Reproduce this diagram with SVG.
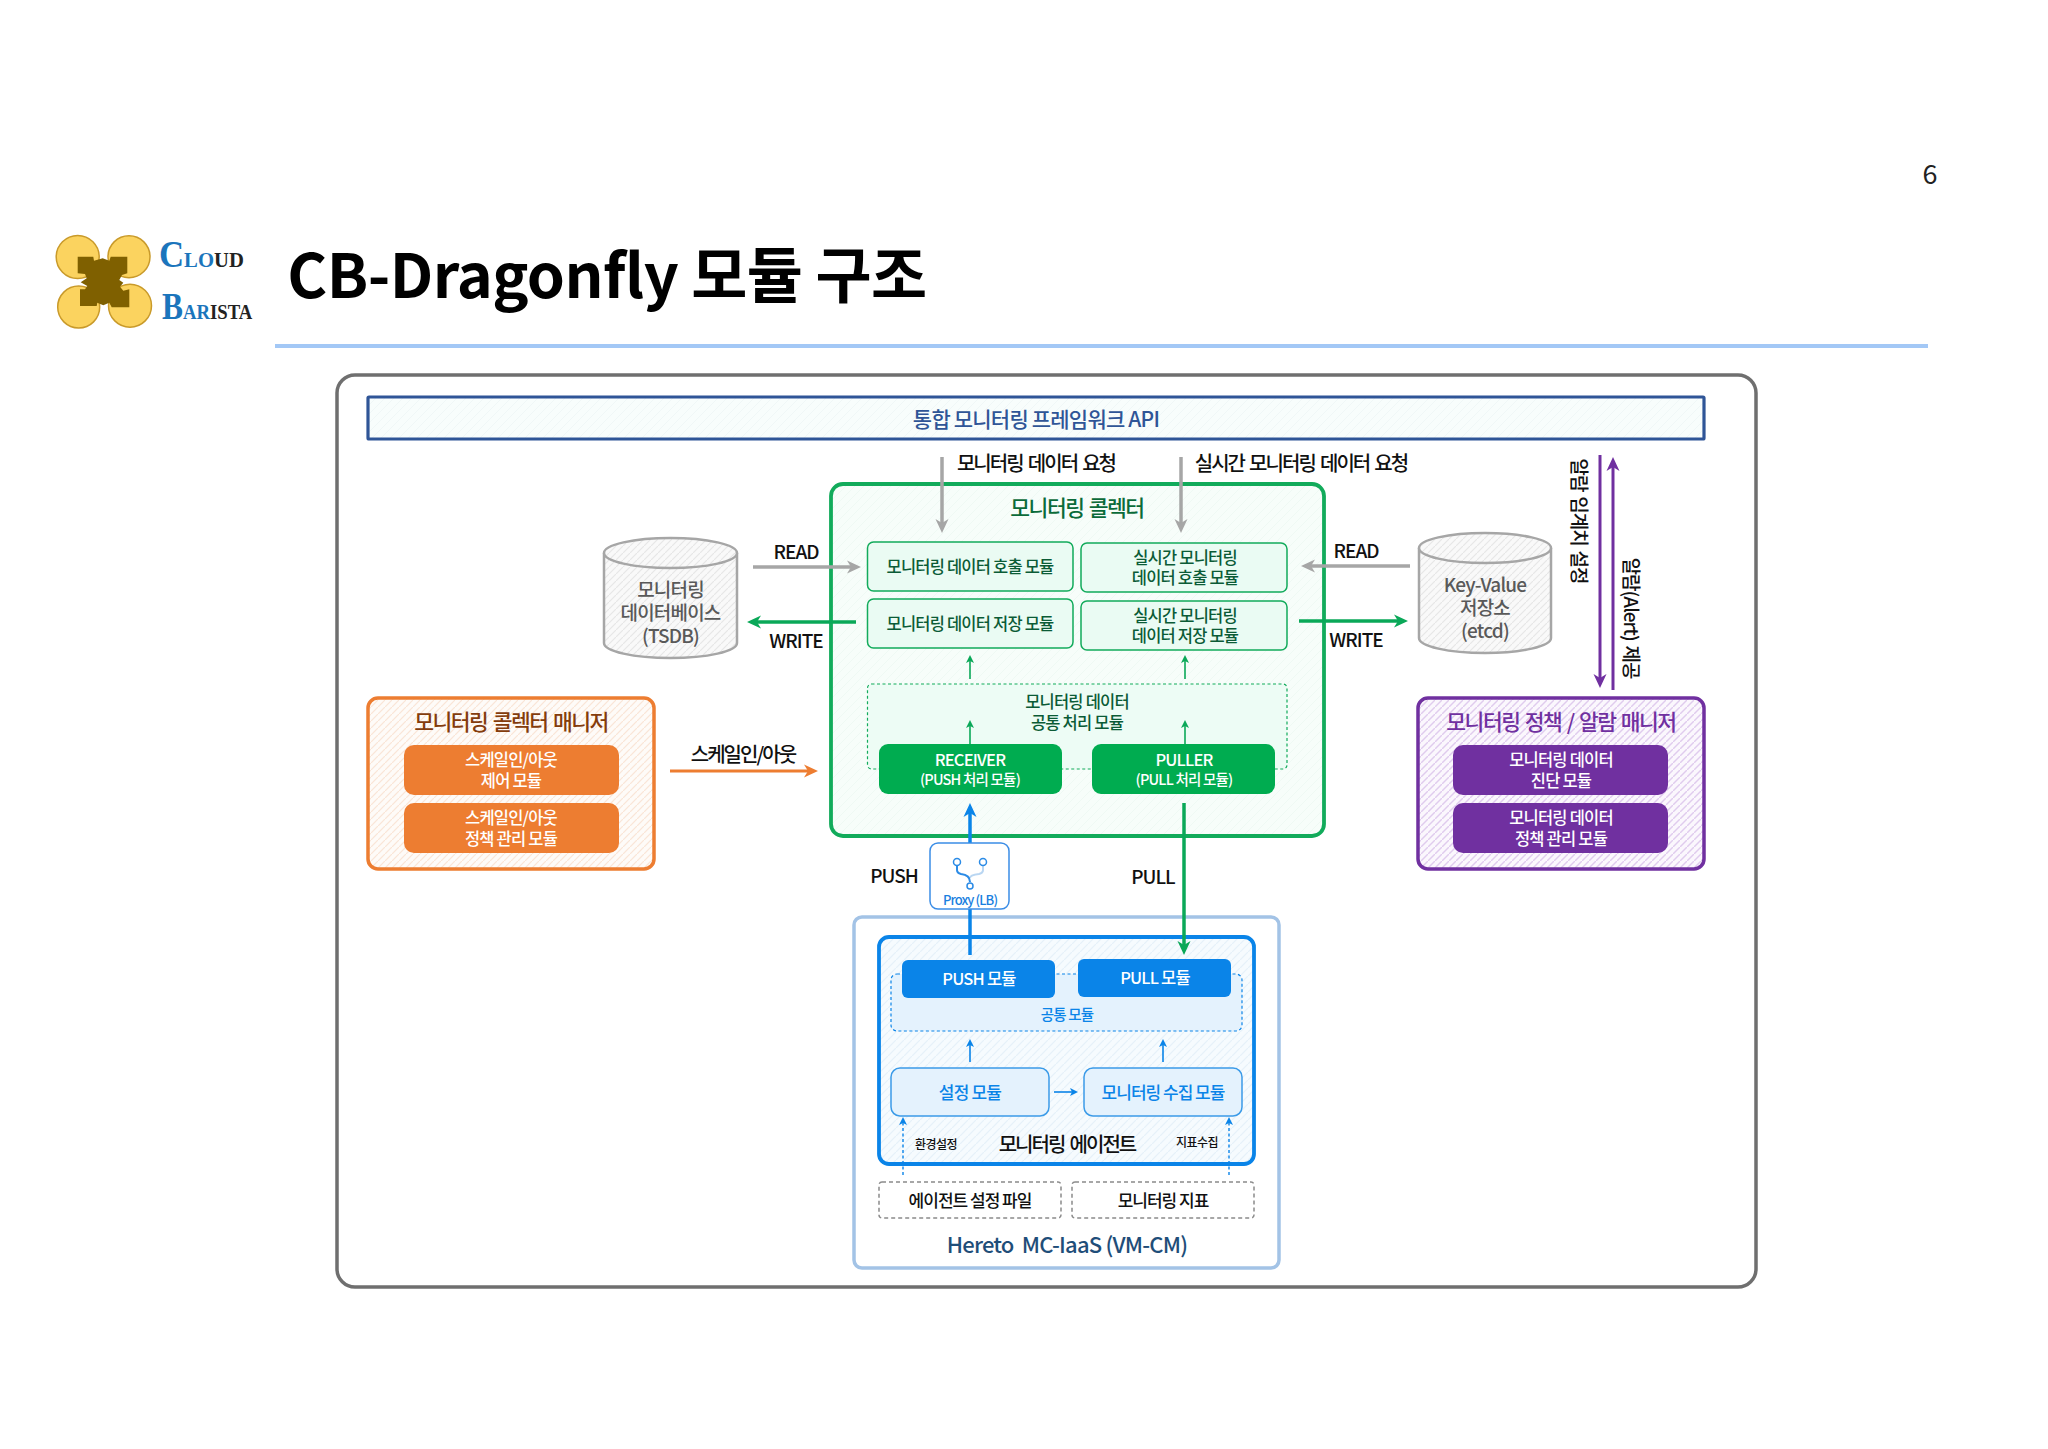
<svg xmlns="http://www.w3.org/2000/svg" width="2048" height="1449" viewBox="0 0 2048 1449">
<style>
text{font-family:"Noto Sans CJK KR","Noto Sans",sans-serif;font-weight:500;text-anchor:middle;dominant-baseline:central;letter-spacing:-.8px}
.lbl{font-size:20px;fill:#111;letter-spacing:-1.95px;word-spacing:2.5px}
.rw{font-size:19px;fill:#111;letter-spacing:-1px}
.mod{font-size:16.5px;fill:#0b5b36}
.wh{font-size:16.5px;fill:#fff}
.wh2{font-size:14.5px;fill:#fff}
.cyl{font-size:19px;fill:#595959}
.tt{font-size:21.5px;letter-spacing:-1.5px;word-spacing:2px}
.sub{fill:#0a84e8;font-size:17px}
.logo{font-family:"Liberation Serif",serif;font-weight:700;text-anchor:start;dominant-baseline:auto;font-size:22px;letter-spacing:0}
.m{stroke:#12ab5b;stroke-width:1.5;fill:#eafbf3}
.b{stroke:#3b9be8;stroke-width:1.5;fill:#e4f2fd}
.dg{fill:none;stroke:#8a8a8a;stroke-width:1.5;stroke-dasharray:4 3}
.c{fill:none}
.gray{stroke:#a6a6a6;stroke-width:3.5;marker-end:url(#aGray)}
.grn{stroke:#0aa858;stroke-width:3.5;marker-end:url(#aGrn)}
.grnS{stroke:#0aa858;stroke-width:1.6;marker-end:url(#aGrnS)}
.blu{stroke:#0a84e8;stroke-width:3.5}
.bluS{stroke:#0a84e8;stroke-width:1.6;marker-end:url(#aBluS)}
.bluD{stroke:#0a84e8;stroke-width:1.4;stroke-dasharray:3 2.5;marker-end:url(#aBluS)}
.org{stroke:#ed7d31;stroke-width:3;marker-end:url(#aOrg)}
.pur{stroke:#7030a0;stroke-width:3;marker-end:url(#aPur)}
</style>
<defs>
<marker id="aGray" markerUnits="userSpaceOnUse" markerWidth="16" markerHeight="16" refX="9" refY="7" orient="auto"><path d="M14,7 L0,0.5 L4,7 L0,13.500 z" fill="#a6a6a6"/></marker>
<marker id="aGrn" markerUnits="userSpaceOnUse" markerWidth="16" markerHeight="16" refX="9" refY="7" orient="auto"><path d="M14,7 L0,0.5 L4,7 L0,13.500 z" fill="#0aa858"/></marker>
<marker id="aBlu" markerUnits="userSpaceOnUse" markerWidth="16" markerHeight="16" refX="9" refY="7" orient="auto"><path d="M14,7 L0,0.5 L4,7 L0,13.500 z" fill="#0a84e8"/></marker>
<marker id="aOrg" markerUnits="userSpaceOnUse" markerWidth="16" markerHeight="16" refX="9" refY="7" orient="auto"><path d="M14,7 L0,0.5 L4,7 L0,13.500 z" fill="#ed7d31"/></marker>
<marker id="aPur" markerUnits="userSpaceOnUse" markerWidth="16" markerHeight="16" refX="9" refY="7" orient="auto"><path d="M14,7 L0,0.5 L4,7 L0,13.500 z" fill="#7030a0"/></marker>
<marker id="aGrnS" markerUnits="userSpaceOnUse" markerWidth="10" markerHeight="10" refX="5" refY="4" orient="auto"><path d="M8,4 L0,0 L2,4 L0,8 z" fill="#0aa858"/></marker>
<marker id="aBluS" markerUnits="userSpaceOnUse" markerWidth="10" markerHeight="10" refX="5" refY="4" orient="auto"><path d="M8,4 L0,0 L2,4 L0,8 z" fill="#0a84e8"/></marker>
<pattern id="hNavy" width="9" height="9" patternUnits="userSpaceOnUse"><rect width="9" height="9" fill="#f8fdfc"/><path d="M-1,10 L10,-1" stroke="#f0f7f7" stroke-width="1"/></pattern>
<pattern id="hGrn" width="9" height="9" patternUnits="userSpaceOnUse"><rect width="9" height="9" fill="#f7fdfa"/><path d="M-1,10 L10,-1" stroke="#eff9f4" stroke-width="1"/></pattern>
<pattern id="hBlu" width="8" height="8" patternUnits="userSpaceOnUse"><rect width="8" height="8" fill="#f6fbfe"/><path d="M-1,9 L9,-1" stroke="#e6f1f9" stroke-width="1.2"/></pattern>
<pattern id="hGray" width="7" height="7" patternUnits="userSpaceOnUse"><rect width="7" height="7" fill="#f9f9f9"/><path d="M-1,8 L8,-1" stroke="#e6e6e6" stroke-width="1.1"/></pattern>
<pattern id="hOrg" width="7" height="7" patternUnits="userSpaceOnUse"><rect width="7" height="7" fill="#fefbf8"/><path d="M-1,8 L8,-1" stroke="#fae5d6" stroke-width="1.2"/></pattern>
<pattern id="hPur" width="7" height="7" patternUnits="userSpaceOnUse"><rect width="7" height="7" fill="#fbf7fd"/><path d="M-1,8 L8,-1" stroke="#e0cbee" stroke-width="1.4"/></pattern>
</defs>
<rect width="2048" height="1449" fill="#fff"/>

<g id="header">
<text x="1930" y="172" style="font-size:27px;font-weight:400;letter-spacing:0" fill="#222">6</text>
<text x="607" y="271" style="font-size:61px;font-weight:700;letter-spacing:-.6px" fill="#000">CB-Dragonfly 모듈 구조</text>
<rect x="275" y="344" width="1653" height="4" fill="#a3c8f6"/>
</g>

<g id="logo">
<g fill="#fbd35f" stroke="#c99a2a" stroke-width="1.5">
<circle cx="77.700" cy="257" r="21.500"/><circle cx="129" cy="256.700" r="21"/><circle cx="78.700" cy="307" r="21"/><circle cx="130" cy="305.700" r="21.500"/>
</g>
<path d="M77.700,256.700 H93.300 L94,260.700 L102.700,258.300 L109.300,260.700 L110.700,256.700 H127.300 V273.300 L122,275 L119.300,280 L123.300,282.700 L120,286.700 L123.300,290.700 L129.300,289.300 V307.300 H111.700 L109.300,302.700 L103.300,305.300 L97.300,302.700 L96.700,306 H80 V289.300 H85 L87.300,286 L80.700,282.300 L86.700,278.300 L85,274 L77.700,273.300 Z" fill="#7f6000"/>
<text transform="translate(159,267) scale(.94,1)" class="logo"><tspan font-size="37" fill="#1b75bc">C</tspan><tspan fill="#1b75bc">LO</tspan><tspan fill="#222">UD</tspan></text>
<text transform="translate(162,319) scale(.85,1)" class="logo"><tspan font-size="37" fill="#1b75bc">B</tspan><tspan fill="#1b75bc">AR</tspan><tspan fill="#222">ISTA</tspan></text>
</g>

<g id="frame"><rect x="337" y="375" width="1419" height="912" rx="18" fill="#fff" stroke="#6f6f6f" stroke-width="3.500"/></g>

<g id="api">
<rect x="368" y="397" width="1336" height="42" rx="1" fill="url(#hNavy)" stroke="#2f5597" stroke-width="3.200"/>
<text x="1036" y="418" style="font-size:21px" fill="#2f5597">통합 모니터링 프레임워크 API</text>
</g>

<g id="collector">
<rect x="831" y="484" width="493" height="352" rx="12" fill="url(#hGrn)" stroke="#12ab5b" stroke-width="3.800"/>
<text x="1077" y="506" class="tt" fill="#0b6b3a">모니터링 콜렉터</text>
<rect x="867.500" y="542" width="205.500" height="49" rx="6" class="m"/>
<text x="970" y="566" class="mod">모니터링 데이터 호출 모듈</text>
<rect x="867.500" y="599" width="205.500" height="49" rx="6" class="m"/>
<text x="970" y="623" class="mod">모니터링 데이터 저장 모듈</text>
<rect x="1081" y="543" width="206" height="49" rx="6" class="m"/>
<text x="1185" y="557" class="mod">실시간 모니터링</text><text x="1185" y="577" class="mod">데이터 호출 모듈</text>
<rect x="1081" y="601" width="206" height="49" rx="6" class="m"/>
<text x="1185" y="615" class="mod">실시간 모니터링</text><text x="1185" y="635" class="mod">데이터 저장 모듈</text>
<rect x="867.500" y="684" width="419.500" height="85" rx="4" fill="#edfcf5" stroke="#12ab5b" stroke-width="1.200" stroke-dasharray="3 2.500"/>
<text x="1077" y="701" class="mod">모니터링 데이터</text><text x="1077" y="722" class="mod">공통 처리 모듈</text>
<rect x="879" y="744" width="183" height="50" rx="9" fill="#00ac50"/>
<text x="970" y="759" class="wh">RECEIVER</text><text x="970" y="778.500" class="wh2">(PUSH 처리 모듈)</text>
<rect x="1092" y="744" width="183" height="50" rx="9" fill="#00ac50"/>
<text x="1184" y="759" class="wh">PULLER</text><text x="1184" y="778.500" class="wh2">(PULL 처리 모듈)</text>
</g>

<g id="tsdb">
<path d="M604,553 V643 A66.500,15 0 0 0 737,643 V553" fill="url(#hGray)" stroke="#a6a6a6" stroke-width="2.500"/>
<ellipse cx="670.500" cy="553" rx="66.500" ry="15" fill="url(#hGray)" stroke="#a6a6a6" stroke-width="2.500"/>
<text x="670.500" y="588" class="cyl">모니터링</text><text x="670.500" y="611" class="cyl">데이터베이스</text><text x="670.500" y="634" class="cyl">(TSDB)</text>
</g>

<g id="etcd">
<path d="M1419,548 V638 A66,15 0 0 0 1551,638 V548" fill="url(#hGray)" stroke="#a6a6a6" stroke-width="2.500"/>
<ellipse cx="1485" cy="548" rx="66" ry="15" fill="url(#hGray)" stroke="#a6a6a6" stroke-width="2.500"/>
<text x="1485" y="583" class="cyl">Key-Value</text><text x="1485" y="606" class="cyl">저장소</text><text x="1485" y="629" class="cyl">(etcd)</text>
</g>

<g id="collector-manager">
<rect x="368" y="698" width="286" height="171" rx="10" fill="url(#hOrg)" stroke="#ed7d31" stroke-width="3.500"/>
<text x="511" y="720" class="tt" fill="#843c0c">모니터링 콜렉터 매니저</text>
<rect x="404" y="745" width="215" height="50" rx="10" fill="#ed7d31"/>
<text x="511" y="759" class="wh">스케일인/아웃</text><text x="511" y="780" class="wh">제어 모듈</text>
<rect x="404" y="803" width="215" height="50" rx="10" fill="#ed7d31"/>
<text x="511" y="817" class="wh">스케일인/아웃</text><text x="511" y="838" class="wh">정책 관리 모듈</text>
</g>

<g id="policy-manager">
<rect x="1418" y="698" width="286" height="171" rx="10" fill="url(#hPur)" stroke="#7030a0" stroke-width="3.500"/>
<text x="1561" y="720" class="tt" fill="#7030a0">모니터링 정책 / 알람 매니저</text>
<rect x="1453" y="745" width="215" height="50" rx="10" fill="#7030a0"/>
<text x="1561" y="759" class="wh">모니터링 데이터</text><text x="1561" y="780" class="wh">진단 모듈</text>
<rect x="1453" y="803" width="215" height="50" rx="10" fill="#7030a0"/>
<text x="1561" y="817" class="wh">모니터링 데이터</text><text x="1561" y="838" class="wh">정책 관리 모듈</text>
</g>

<g id="iaas">
<rect x="854" y="917" width="425" height="351" rx="8" fill="#fff" stroke="#a3c3e6" stroke-width="3.500"/>
<text x="1067" y="1243" style="font-size:22px;letter-spacing:-.8px" fill="#1f4e79" xml:space="preserve">Hereto  MC-IaaS (VM-CM)</text>
</g>

<g id="agent">
<rect x="879" y="937" width="375" height="227" rx="10" fill="url(#hBlu)" stroke="#0a84e8" stroke-width="3.800"/>
<rect x="891" y="974" width="351" height="57" rx="6" fill="#e4f2fd" stroke="#0a84e8" stroke-width="1.200" stroke-dasharray="3 2.500"/>
<text x="1067" y="1013" class="sub" style="font-size:14.5px">공통 모듈</text>
<rect x="902" y="960" width="153" height="38" rx="6" fill="#0a84e8"/>
<text x="979" y="978" class="wh">PUSH 모듈</text>
<rect x="1078" y="959" width="153" height="38" rx="6" fill="#0a84e8"/>
<text x="1155" y="977" class="wh">PULL 모듈</text>
<rect x="891" y="1068" width="158" height="48" rx="9" class="b"/>
<text x="970" y="1091" class="sub">설정 모듈</text>
<rect x="1084" y="1068" width="158" height="48" rx="9" class="b"/>
<text x="1163" y="1091" class="sub" style="letter-spacing:-1px">모니터링 수집 모듈</text>
<text x="936" y="1143" style="font-size:12px;letter-spacing:-.5px" fill="#111">환경설정</text>
<text x="1197" y="1141" style="font-size:12px;letter-spacing:-.5px" fill="#111">지표수집</text>
<text x="1067" y="1143" class="lbl">모니터링 에이전트</text>
</g>

<g id="agent-config">
<rect x="879" y="1182" width="182" height="36" rx="3" class="dg"/>
<text x="970" y="1199" style="font-size:17px;letter-spacing:-1px" fill="#111">에이전트 설정 파일</text>
</g>
<g id="metrics">
<rect x="1072" y="1182" width="182" height="36" rx="3" class="dg"/>
<text x="1163" y="1199" style="font-size:17px;letter-spacing:-1px" fill="#111">모니터링 지표</text>
</g>

<g id="connectors" class="c">
<path class="gray" d="M942,457 V528"/>
<path class="gray" d="M1181,457 V528"/>
<path class="gray" d="M753,567 H856"/>
<path class="gray" d="M1410,566 H1306"/>
<path class="grn" d="M856,622 H752"/>
<path class="grn" d="M1299,621 H1403"/>
<path class="org" d="M670,771 H813"/>
<path class="pur" d="M1600,455 V683"/>
<path class="pur" d="M1613,690 V462"/>
<path class="grnS" d="M970,679 V658"/>
<path class="grnS" d="M1185,679 V658"/>
<path class="grnS" d="M970,744 V723"/>
<path class="grnS" d="M1185,744 V723"/>
<path class="blu" style="marker-end:url(#aBlu)" d="M970,843 V808"/>
<path class="blu" d="M970,909 V955"/>
<path class="grn" d="M1184,803 V950"/>
<path class="bluS" d="M970,1062 V1042"/>
<path class="bluS" d="M1163,1062 V1042"/>
<path class="bluS" d="M1054,1092 H1075"/>
<path class="bluD" d="M903,1175 V1120"/>
<path class="bluD" d="M1229,1175 V1120"/>
</g>

<g id="proxy">
<rect x="930" y="843" width="79" height="66" rx="8" fill="#fff" stroke="#3b8de6" stroke-width="1.500"/>
<path d="M983,866 V870 Q983,873 979,874 Q970,875 970,878" fill="none" stroke="#b9d6f2" stroke-width="2"/>
<path d="M957,866 V870 Q957,873 961,874 Q970,875 970,882" fill="none" stroke="#2b8be6" stroke-width="2"/>
<g fill="#fff" stroke="#2b8be6" stroke-width="1.500"><circle cx="957" cy="862" r="3.500"/><circle cx="983" cy="862" r="3.500"/><circle cx="970" cy="886" r="3"/></g>
<text x="970" y="899" style="font-size:13px;letter-spacing:-.9px" fill="#1a7fe0">Proxy (LB)</text>
</g>

<g id="labels">
<text x="1036" y="462" class="lbl">모니터링 데이터 요청</text>
<text x="1301" y="462" class="lbl">실시간 모니터링 데이터 요청</text>
<text x="796" y="550" class="rw">READ</text>
<text x="796" y="639" class="rw">WRITE</text>
<text x="1356" y="549" class="rw">READ</text>
<text x="1356" y="638" class="rw">WRITE</text>
<text x="743" y="753" class="lbl">스케일인/아웃</text>
<text x="894" y="874" class="rw">PUSH</text>
<text x="1153" y="875" class="rw">PULL</text>
<text transform="translate(1580,521) rotate(90)" class="rw" style="word-spacing:1.5px">알람 임계치 설정</text>
<text transform="translate(1632.500,618) rotate(90)" class="rw" style="word-spacing:1.5px">알람(Alert) 제공</text>
</g>
</svg>
